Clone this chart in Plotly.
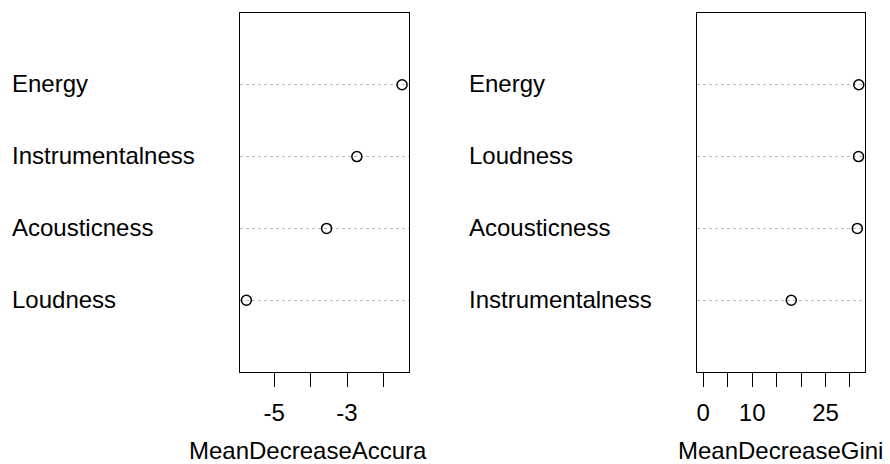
import plotly.graph_objects as go

# Data (bottom-to-top order, as in R dotchart)
acc_vars = ["Loudness", "Acousticness", "Instrumentalness", "Energy"]
acc_vals = [-5.76, -3.56, -2.73, -1.49]
gini_vars = ["Instrumentalness", "Acousticness", "Loudness", "Energy"]
gini_vals = [18.0, 31.5, 31.75, 31.8]
acc_ticks = [-5, -4, -3, -2]
acc_ticktext = ["-5", "", "-3", ""]
gini_ticks = [0, 5, 10, 15, 20, 25, 30]
gini_ticktext = ["0", "", "10", "", "", "25", ""]

FONT = "Liberation Sans, Arial, sans-serif"
FS = 24
W, H = 890, 464

rows = list(range(1, len(acc_vars) + 1))

fig = go.Figure()
fig.add_trace(go.Scatter(x=acc_vals, y=rows, mode="markers", xaxis="x", yaxis="y",
                         marker=dict(symbol="circle-open", size=10, color="black",
                                     line=dict(width=1.5, color="black")),
                         showlegend=False, cliponaxis=False))
fig.add_trace(go.Scatter(x=gini_vals, y=rows, mode="markers", xaxis="x2", yaxis="y2",
                         marker=dict(symbol="circle-open", size=10, color="black",
                                     line=dict(width=1.5, color="black")),
                         showlegend=False, cliponaxis=False))

def xax(domain, rng, tv, tt):
    return dict(domain=domain, range=rng, tickvals=tv, ticktext=tt, ticks="outside",
                ticklen=14, tickwidth=1, tickcolor="black", showline=True, mirror=True,
                linecolor="black", linewidth=1, showgrid=False, zeroline=False,
                tickfont=dict(family=FONT, size=FS, color="black"), ticklabelstandoff=5,
                fixedrange=True)

def yax(domain, anchor):
    return dict(domain=domain, range=[0, len(acc_vars) + 1], tickvals=rows, showticklabels=False,
                ticks="", showline=True, mirror=True, linecolor="black", linewidth=1,
                showgrid=True, gridcolor="#bdbdbd", griddash="dot", gridwidth=1,
                zeroline=False, anchor=anchor, fixedrange=True)

ydom = [1 - 372 / H, 1 - 13 / H]
acc_rng = [-5.935, -1.30]
gini_rng = [-1.28, 33.07]
fig.update_layout(
    width=W, height=H, margin=dict(l=0, r=0, t=0, b=0),
    paper_bgcolor="white", plot_bgcolor="white",
    xaxis=xax([240 / W, 409 / W], acc_rng, acc_ticks, acc_ticktext) | dict(anchor="y"),
    yaxis=yax(ydom, "x"),
    xaxis2=xax([697 / W, 865 / W], gini_rng, gini_ticks, gini_ticktext) | dict(anchor="y2"),
    yaxis2=yax(ydom, "x2"),
    font=dict(family=FONT, size=FS, color="black"),
)

ann = []
for i, v in enumerate(acc_vars):
    ann.append(dict(x=10 / W, xref="paper", y=rows[i], yref="y", text=v, showarrow=False,
                    xanchor="left", yanchor="middle", yshift=1,
                    font=dict(family=FONT, size=FS, color="black")))
for i, v in enumerate(gini_vars):
    ann.append(dict(x=467 / W, xref="paper", y=rows[i], yref="y2", text=v, showarrow=False,
                    xanchor="left", yanchor="middle", yshift=1,
                    font=dict(family=FONT, size=FS, color="black")))
ann.append(dict(x=187 / W, xref="paper", y=1 - 450 / H, yref="paper", text="MeanDecreaseAccura",
                showarrow=False, xanchor="left", yanchor="middle",
                font=dict(family=FONT, size=FS, color="black")))
ann.append(dict(x=780 / W, xref="paper", y=1 - 450 / H, yref="paper", text="MeanDecreaseGini",
                showarrow=False, xanchor="center", yanchor="middle",
                font=dict(family=FONT, size=FS, color="black")))
fig.update_layout(annotations=ann)

fig.write_html("out.html", config={"displayModeBar": False},
               post_script="document.body.style.margin='0';document.body.style.overflow='hidden';")
